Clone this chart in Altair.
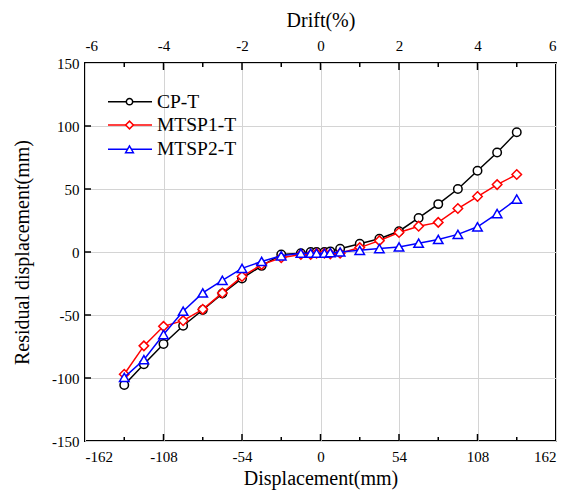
import altair as alt
import pandas as pd

# ---------------- data ----------------
series_names = ["CP-T", "MTSP1-T", "MTSP2-T"]
series_colors = ["#000000", "#ff0000", "#0000ff"]
series_shapes = ["circle", "diamond", "triangle-up"]
series_sizes = [72, 90, 90]
legend_sizes = [40, 60, 60]

displacement = [-135, -121.5, -108, -94.5, -81, -67.5, -54, -40.5, -27, -13.5, -6.75, -2.7,
                2.7, 6.75, 13.5, 27, 40.5, 54, 67.5, 81, 94.5, 108, 121.5, 135]
cp_t = [-105.5, -89, -73, -58.5, -46, -33, -21, -11, -2, -1, 0, 0,
        0, 0.5, 2.5, 6.5, 10.5, 16.5, 27, 38, 50, 64.5, 79, 95]
mtsp1_t = [-97, -74.5, -59, -54.5, -45.5, -32.5, -19.5, -10, -4.5, -2, -2, -1,
           -1, -1.5, -1, 3.5, 9, 15.5, 20.5, 23.5, 34.5, 44, 53.5, 61.5]
mtsp2_t = [-99.5, -85.5, -65.5, -47, -32.5, -22.5, -13, -7.5, -3, -1, -1, -1,
           -1, -0.5, 0, 1.3, 2.7, 4, 7, 10, 14, 20, 30.5, 42]

x_ticks = [-162, -108, -54, 0, 54, 108, 162]
x_minor = [-135, -81, -27, 27, 81, 135]
x_major_inner = [-108, -54, 0, 54, 108]
y_ticks = [-150, -100, -50, 0, 50, 100, 150]
y_inner = [-100, -50, 0, 50, 100]
drift_ticks = [-6, -4, -2, 0, 2, 4, 6]

FONT = "Liberation Serif"
W, H = 471, 378

rows = []
for name, vals in zip(series_names, [cp_t, mtsp1_t, mtsp2_t]):
    for d, v in zip(displacement, vals):
        rows.append({"series": name, "disp": d, "res": v})
df = pd.DataFrame(rows)

xs = alt.Scale(domain=[-162, 162], nice=False, zero=False)
ys = alt.Scale(domain=[-150, 150], nice=False, zero=False)

axis_style = dict(labelFont=FONT, labelFontSize=15, labelColor="black",
                  titleFont=FONT, titleFontSize=20, titleFontWeight="normal", titleColor="black",
                  domain=False, ticks=False, tickSize=0, labelExpr="'' + datum.value")

x_axis = alt.Axis(values=x_ticks, title="Displacement(mm)", grid=True,
                  labelPadding=8, titlePadding=4, **axis_style)
y_axis = alt.Axis(values=y_ticks, title="Residual displacement(mm)", grid=True,
                  labelPadding=6, titlePadding=19, **axis_style)

X = alt.X("disp:Q", scale=xs, axis=x_axis)
Y = alt.Y("res:Q", scale=ys, axis=y_axis)

layers = []
for i, name in enumerate(series_names):
    base = alt.Chart(df).transform_filter(alt.datum.series == name)
    layers.append(base.mark_line(color=series_colors[i], strokeWidth=1.5).encode(x=X, y=Y))
    layers.append(base.mark_point(shape=series_shapes[i], size=series_sizes[i], filled=True,
                                  fill="white", stroke=series_colors[i], strokeWidth=1.5,
                                  opacity=1).encode(x=X, y=Y))

# inward ticks
maj_df = pd.DataFrame({"disp": x_major_inner})
min_df = pd.DataFrame({"disp": x_minor})
yt_df = pd.DataFrame({"res": y_inner})
tick = dict(color="black", strokeWidth=1.5)
layers.append(alt.Chart(maj_df).mark_rule(**tick).encode(x=X, y=alt.value(H), y2=alt.value(H - 7)))
layers.append(alt.Chart(min_df).mark_rule(**tick).encode(x=X, y=alt.value(H), y2=alt.value(H - 4)))
layers.append(alt.Chart(maj_df).mark_rule(**tick).encode(x=X, y=alt.value(0), y2=alt.value(7)))
layers.append(alt.Chart(min_df).mark_rule(**tick).encode(x=X, y=alt.value(0), y2=alt.value(4)))
layers.append(alt.Chart(yt_df).mark_rule(**tick).encode(y=Y, x=alt.value(0), x2=alt.value(6)))

# legend
leg_rows = [38.7, 62, 86.3]
for i, name in enumerate(series_names):
    ldf = pd.DataFrame({"series": [name]})
    yy = leg_rows[i]
    layers.append(alt.Chart(ldf).mark_rule(color=series_colors[i], strokeWidth=1.5).encode(
        x=alt.value(23), x2=alt.value(67), y=alt.value(yy)))
    layers.append(alt.Chart(ldf).mark_point(shape=series_shapes[i], size=legend_sizes[i], filled=True,
                                            fill="white", stroke=series_colors[i], strokeWidth=1.5,
                                            opacity=1).encode(x=alt.value(44.5), y=alt.value(yy)))
    layers.append(alt.Chart(ldf).mark_text(font=FONT, fontSize=19.5, align="left", baseline="middle",
                                           color="black").encode(
        x=alt.value(72), y=alt.value(yy), text="series:N"))

main = alt.layer(*layers)

drift_df = pd.DataFrame({"drift": drift_ticks})
top = alt.Chart(drift_df).mark_point(opacity=0).encode(
    x=alt.X("drift:Q", scale=alt.Scale(domain=[-6, 6], nice=False, zero=False),
            axis=alt.Axis(orient="top", values=drift_ticks, title="Drift(%)", grid=False,
                          labelPadding=10, titlePadding=8, **axis_style)),
)

chart = alt.layer(main, top).resolve_scale(x="independent").properties(
    width=W, height=H,
    autosize=alt.AutoSizeParams(type="none"),
    padding={"left": 77, "top": 55, "right": 3, "bottom": 52},
).configure(font=FONT).configure_view(stroke="black", strokeWidth=2).configure_axis(
    gridColor="#d4d4d4", gridWidth=1, labelFont=FONT, titleFont=FONT,
)

chart.save("out.html", embed_options={"renderer": "svg", "actions": False})
